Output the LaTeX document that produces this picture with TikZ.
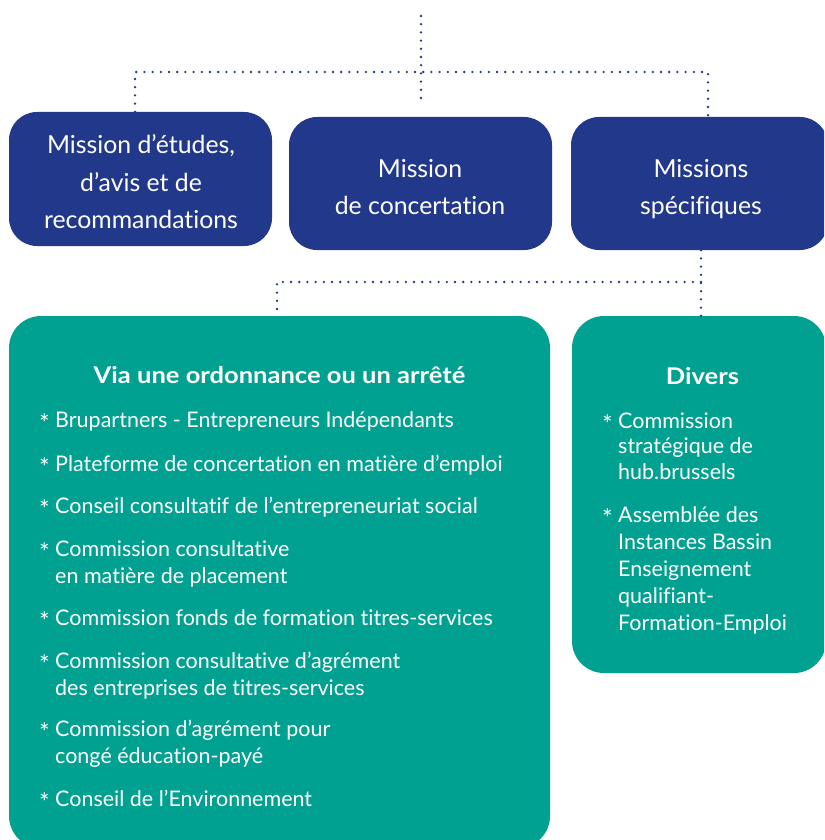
\documentclass[tikz,border=0pt]{standalone}
\usepackage{fontspec}
\setmainfont{Lato}[Ligatures=NoCommon]
\usetikzlibrary{calc}
\definecolor{navyblue}{RGB}{34,56,138}
\definecolor{tealgreen}{RGB}{0,161,145}
\tikzset{
  mission/.style={rectangle, fill=navyblue, rounded corners=28pt, inner sep=0pt},
  missiontext/.style={text=white, align=center, anchor=base, inner sep=0pt,
    font=\fontsize{24.8}{37.5}\selectfont},
  group/.style={rectangle, fill=tealgreen, rounded corners=32pt, inner sep=0pt},
  heading/.style={text=white, font=\fontsize{23}{26}\selectfont\bfseries,
    anchor=base, inner sep=0pt},
  item/.style={text=white, font=\fontsize{21.5}{27}\selectfont,
    anchor=base west, align=left, inner sep=0pt},
  bullet/.style={text=white, font=\fontsize{25}{27}\selectfont,
    anchor=base west, inner sep=0pt, yshift=-5pt},
  dots/.style={draw=navyblue, line width=2.6pt, line cap=round,
    dash pattern=on 0pt off 8.2pt},
}
\begin{document}
\begin{tikzpicture}[x=1pt,y=-1pt]
\useasboundingbox (0,0) rectangle (824,840);
\clip (0,0) rectangle (824,840);

% first level: the three missions
\node[mission, minimum width=263pt, minimum height=134pt] (etudes) at (140.5,179) {};
\node[mission, minimum width=263pt, minimum height=133pt] (concert) at (420.5,183.5) {};
\node[mission, minimum width=257pt, minimum height=133pt] (specif) at (699.5,183.5) {};
% (anchor base = baseline of the last line)
\node[missiontext] (etudes-t) at (141,228.5)
  {Mission d’études,\\d’avis et de\\recommandations};
\node[missiontext] (concert-t) at (420,214.5) {Mission\\de concertation};
\node[missiontext] (specif-t) at (701,214.5) {Missions\\spécifiques};

% second level: the two groups
\node[group, minimum width=541pt, minimum height=532pt] (ordon) at (279.5,582) {};
\node[group, minimum width=254pt, minimum height=357pt] (divers) at (699,494.5) {};

% junctions of the dotted connectors
\coordinate (top) at (421,16);
\coordinate (stub) at (421,102);
\coordinate (jl) at (135,72);
\coordinate (jr) at (708,72);
\coordinate (j2) at (701,282);
\coordinate (jo) at (277,282);

\draw[dots] (top) -- (stub);
\draw[dots] (etudes.north -| jl) -- (jl) -- (jr) -- (specif.north -| jr);
\draw[dots] (specif.south -| j2) -- (j2) -- (divers.north -| j2);
\draw[dots] (j2) -- (jo) -- (ordon.north -| jo);

% group headings
\node[heading] (hordon) at (279.5,383.5)
  {\scalebox{1.11}[1]{Via une ordonnance ou un arrêté}};
\node[heading] (hdivers) at (702.5,384) {\scalebox{1.11}[1]{Divers}};

% items of the first group: first baseline / last baseline / text
\foreach \ya/\yb/\t [count=\i] in {
  427/427/{Brupartners - Entrepreneurs Indépendants},
  471/471/{Plateforme de concertation en matière d’emploi},
  513/513/{Conseil consultatif de l’entrepreneuriat social},
  556/583/{Commission consultative\\en matière de placement},
  625/625/{Commission fonds de formation titres-services},
  668/695/{Commission consultative d’agrément\\des entreprises de titres-services},
  736/763/{Commission d’agrément pour\\congé éducation-payé},
  806/806/{Conseil de l’Environnement}} {
  \node[bullet] (ob\i) at (39,\ya) {*};
  \node[item] (oi\i) at (55,\yb) {\t};
}

% items of the second group
\node[bullet] (db1) at (602,428) {*};
\node[item, font=\fontsize{21.5}{25.7}\selectfont] (di1) at (618,479.5)
  {Commission\\stratégique de\\hub.brussels};
\node[bullet] (db2) at (602,522) {*};
\node[item, font=\fontsize{21.5}{27}\selectfont] (di2) at (618,630)
  {Assemblée des\\Instances Bassin\\Enseignement\\qualifiant-\\Formation-Emploi};
\end{tikzpicture}
\end{document}
